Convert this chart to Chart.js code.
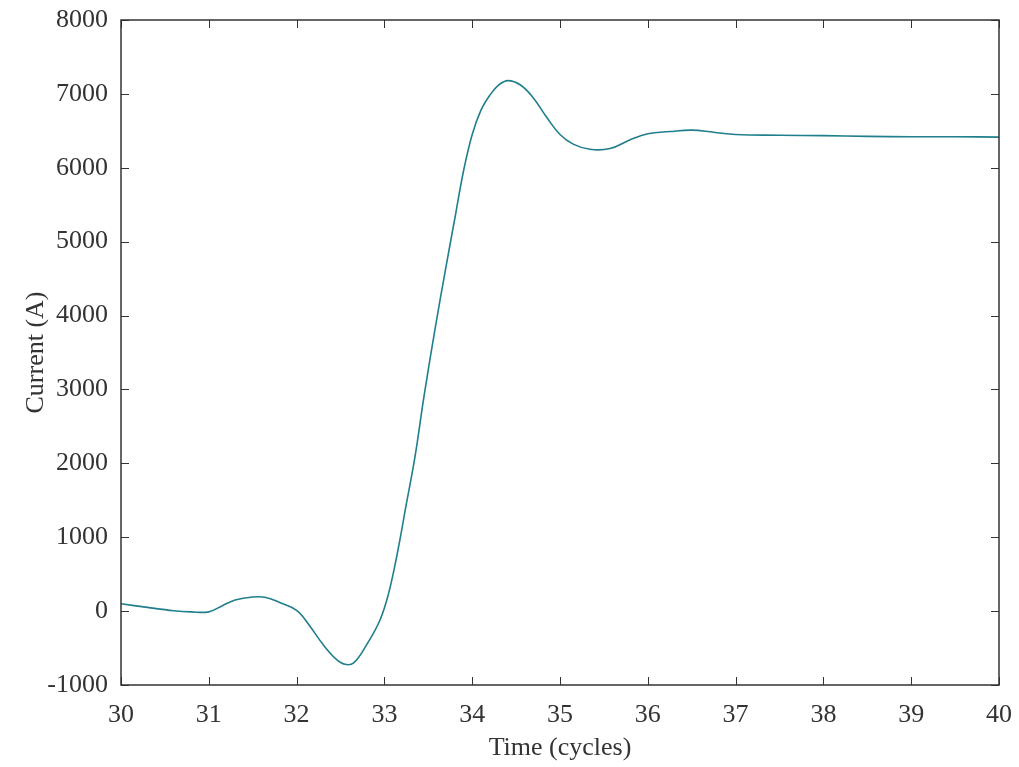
<!DOCTYPE html>
<html>
<head>
<meta charset="utf-8">
<script src="https://cdn.jsdelivr.net/npm/chart.js@4"></script>
<style>
  html, body { margin: 0; padding: 0; background: #fff; }
  #wrap { width: 1019px; height: 767px; }
</style>
</head>
<body>
<div id="wrap"><canvas id="myChart" width="1019" height="767"></canvas></div>
<script>
// time in cycles and current in amps
const timeCycles = [30.0, 30.3, 30.6, 30.8, 31.0, 31.15, 31.3, 31.5, 31.65, 31.8, 32.0, 32.15, 32.3, 32.45, 32.55, 32.65, 32.8, 32.95, 33.05, 33.15, 33.25, 33.35, 33.45, 33.58, 33.7, 33.8, 33.9, 34.0, 34.1, 34.2, 34.3, 34.41, 34.55, 34.69, 34.85, 35.0, 35.15, 35.34, 35.57, 35.8, 36.0, 36.25, 36.5, 36.75, 37.0, 37.5, 38.0, 38.5, 39.0, 39.5, 40.0];
const currentA = [100, 50, 5, -10, -10, 70, 150, 190, 185, 120, 10, -200, -450, -650, -720, -700, -450, -120, 250, 800, 1450, 2100, 2900, 3840, 4650, 5300, 5950, 6450, 6780, 6980, 7120, 7180, 7120, 6955, 6680, 6450, 6320, 6250, 6260, 6380, 6460, 6490, 6510, 6480, 6450, 6440, 6435, 6425, 6420, 6420, 6415];
const xTicks = [30, 31, 32, 33, 34, 35, 36, 37, 38, 39, 40];
const yTicks = [-1000, 0, 1000, 2000, 3000, 4000, 5000, 6000, 7000, 8000];

const points = timeCycles.map((t, i) => ({ x: t, y: currentA[i] }));
const font = { family: "'Liberation Serif', 'Times New Roman', serif", size: 26 };
const ink = '#333333';

// matlab style box with inward ticks
const boxTicks = {
  id: 'boxTicks',
  afterDraw(chart) {
    const { ctx, chartArea: a, scales } = chart;
    const len = 8;
    ctx.save();
    ctx.strokeStyle = ink;
    ctx.lineWidth = 1;
    ctx.beginPath();
    xTicks.forEach(v => {
      const px = Math.round(scales.x.getPixelForValue(v)) + 0.5;
      ctx.moveTo(px, a.bottom); ctx.lineTo(px, a.bottom - len);
      ctx.moveTo(px, a.top); ctx.lineTo(px, a.top + len);
    });
    yTicks.forEach(v => {
      const py = Math.round(scales.y.getPixelForValue(v)) + 0.5;
      ctx.moveTo(a.left, py); ctx.lineTo(a.left + len, py);
      ctx.moveTo(a.right, py); ctx.lineTo(a.right - len, py);
    });
    ctx.stroke();
    ctx.lineWidth = 1.5;
    ctx.strokeRect(a.left, a.top, a.right - a.left, a.bottom - a.top);
    ctx.restore();
  }
};

const ctx = document.getElementById('myChart');

new Chart(ctx, {
  type: 'line',
  data: {
    datasets: [{
      data: points,
      borderColor: '#1f7f8c',
      borderWidth: 1.6,
      pointRadius: 0,
      tension: 0.4,
      fill: false
    }]
  },
  options: {
    responsive: false,
    animation: false,
    events: [],
    layout: { padding: { left: 0, right: 15, top: 20, bottom: 0 } },
    plugins: { legend: { display: false }, tooltip: { enabled: false } },
    scales: {
      x: {
        type: 'linear',
        min: 30,
        max: 40,
        afterFit: s => { s.height = 82; },
        afterBuildTicks: s => { s.ticks = xTicks.map(v => ({ value: v })); },
        grid: { display: false },
        border: { display: false },
        ticks: { color: ink, font: font, padding: 7, maxRotation: 0, callback: v => String(v) },
        title: { display: true, text: 'Time (cycles)', color: ink, font: font, padding: { top: 0, bottom: 3 } }
      },
      y: {
        type: 'linear',
        min: -1000,
        max: 8000,
        afterFit: s => { s.width = 121; s.paddingTop = 0; s.paddingBottom = 0; },
        afterBuildTicks: s => { s.ticks = yTicks.map(v => ({ value: v })); },
        grid: { display: false },
        border: { display: false },
        ticks: { color: ink, font: font, padding: 5, callback: v => String(v) },
        title: { display: true, text: 'Current (A)', color: ink, font: font, padding: { top: 21, bottom: 0 } }
      }
    }
  },
  plugins: [boxTicks]
});
</script>
</body>
</html>
